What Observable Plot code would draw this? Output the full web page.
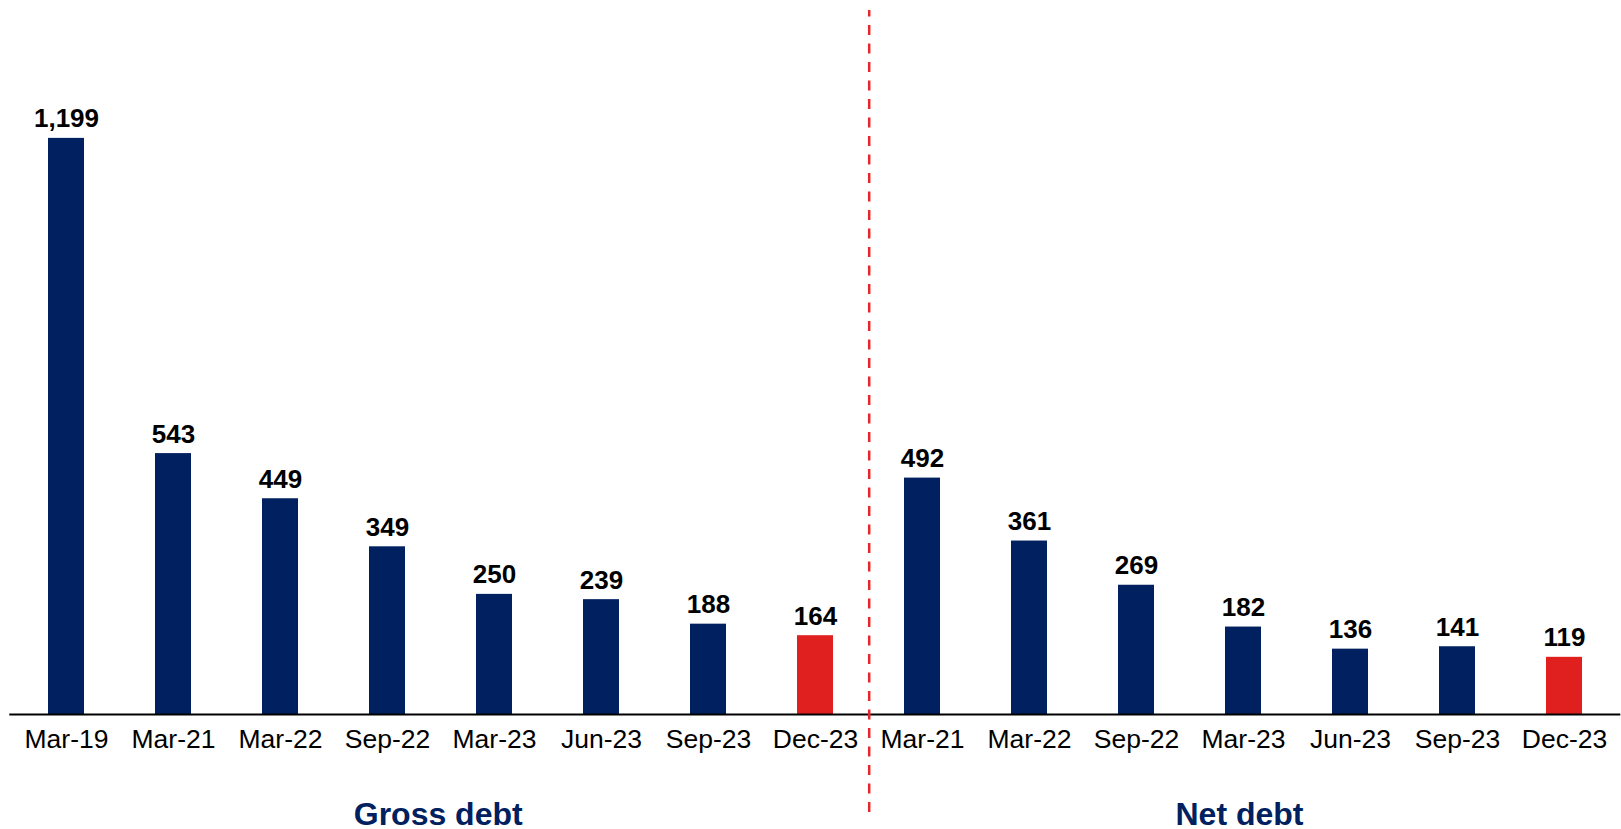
<!DOCTYPE html>
<html>
<head>
<meta charset="utf-8">
<script src="https://cdn.jsdelivr.net/npm/d3@7"></script>
<script src="https://cdn.jsdelivr.net/npm/@observablehq/plot@0.6"></script>
<style>
  html, body { margin: 0; padding: 0; background: #fff; }
  #chart svg { display: block; }
</style>
</head>
<body>
<div id="chart"></div>
<script>
// ---- Data ----
const grossPeriods = ["Mar-19", "Mar-21", "Mar-22", "Sep-22", "Mar-23", "Jun-23", "Sep-23", "Dec-23"];
const grossValues  = [1199, 543, 449, 349, 250, 239, 188, 164];
const netPeriods   = ["Mar-21", "Mar-22", "Sep-22", "Mar-23", "Jun-23", "Sep-23", "Dec-23"];
const netValues    = [492, 361, 269, 182, 136, 141, 119];
const groupLabels  = ["Gross debt", "Net debt"];
const highlightPeriod = "Dec-23";

// ---- Styles ----
const NAVY = "#002060";
const RED = "#E0201E";
const FONT = "'Liberation Sans', Arial, Helvetica, sans-serif";

const W = 1621, H = 829;
const mL = 9.3, mR = 0.7, mT = 137.4, mB = 115;
const nBars = grossPeriods.length + netPeriods.length;
const step = (W - mL - mR) / nBars;

// ---- Table ----
const rows = [
  ...grossPeriods.map((p, i) => ({key: "G|" + p, label: p, group: groupLabels[0], value: grossValues[i], kind: p === highlightPeriod ? "latest" : "base"})),
  ...netPeriods.map((p, i) => ({key: "N|" + p, label: p, group: groupLabels[1], value: netValues[i], kind: p === highlightPeriod ? "latest" : "base"}))
];
const domain = rows.map(d => d.key);

// divider sits between last gross and first net bar
const dividerKey = "G|" + grossPeriods[grossPeriods.length - 1];
// group label anchors: centre of each group
const grossMidKey = "G|" + grossPeriods[grossPeriods.length / 2 - 1];
const netMidKey = "N|" + netPeriods[Math.floor(netPeriods.length / 2)];

const groupStyle = {text: "text", frameAnchor: "bottom", lineAnchor: "bottom", dy: 110, fontSize: 32, fontWeight: "bold", fill: NAVY};

const chart = Plot.plot({
  width: W,
  height: H,
  marginLeft: mL,
  marginRight: mR,
  marginTop: mT,
  marginBottom: mB,
  style: {fontFamily: FONT, background: "#fff", overflow: "visible"},
  x: {domain, paddingInner: 0.665, paddingOuter: 0.3325, label: null},
  y: {domain: [0, 1200], axis: null},
  color: {domain: ["base", "latest"], range: [NAVY, RED]},
  marks: [
    Plot.barY(rows, {x: "key", y: "value", fill: "kind"}),
    Plot.text(rows, {
      x: "key", y: "value",
      text: d => d3.format(",")(d.value),
      lineAnchor: "bottom", dy: -11,
      fontSize: 26, fontWeight: "bold", fill: "#000"
    }),
    Plot.ruleY([0], {stroke: "#000", strokeWidth: 2}),
    Plot.axisX({
      tickSize: 0, tickPadding: 14.5, fontSize: 26.5, fill: "#000",
      tickFormat: k => k.split("|")[1], label: null
    }),
    Plot.ruleX([dividerKey], {
      x: d => d, y1: -204, y2: 1465, dx: step / 2,
      stroke: "#E8262A", strokeWidth: 2.5, strokeDasharray: "10,8.5"
    }),
    Plot.text([{key: grossMidKey, text: groupLabels[0]}], {x: "key", dx: step / 2 - 3, ...groupStyle}),
    Plot.text([{key: netMidKey, text: groupLabels[1]}], {x: "key", dx: -4, ...groupStyle})
  ]
});
document.getElementById("chart").appendChild(chart);
</script>
</body>
</html>
